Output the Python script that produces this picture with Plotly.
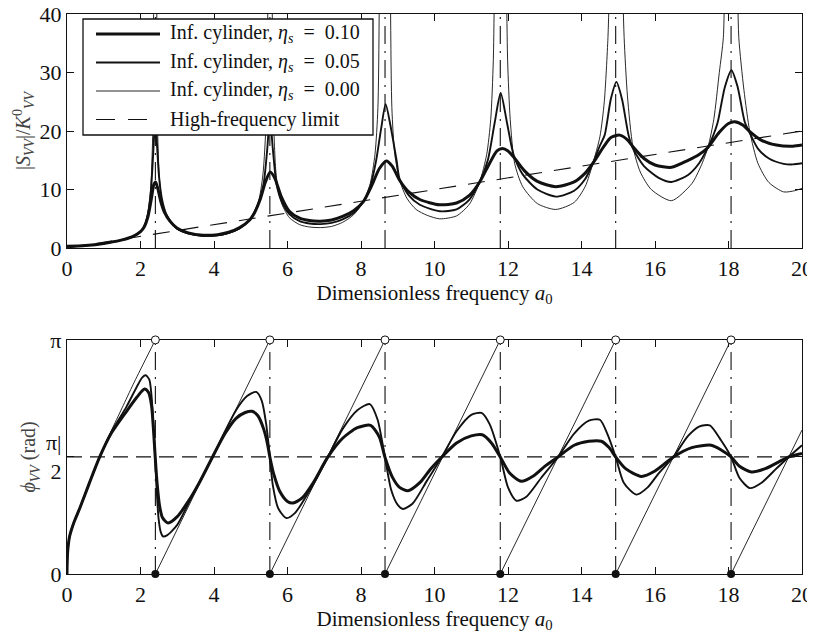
import plotly.graph_objects as go
from plotly.subplots import make_subplots

# ---------------- data ----------------
a0_ticks = [0, 2, 4, 6, 8, 10, 12, 14, 16, 18, 20]
mag_ticks = [0, 10, 20, 30, 40]

# resonance frequencies (vertical guide lines, markers)
resonances = [2.405, 5.520, 8.654, 11.79, 14.93, 18.07]

# high-frequency limit (straight dashed line)
hf_x = [0, 20]
hf_v = [0, 20]

# |S_VV|/K0_VV, eta_s = 0.10
mag_x_010 = [0, 0.5, 1.0, 1.5, 1.8, 2.0, 2.1, 2.2, 2.3, 2.36, 2.41, 2.47, 2.55, 2.66, 2.8, 3.0,
             3.3, 3.7, 4.1, 4.4, 4.7, 4.97, 5.1, 5.25, 5.4, 5.53, 5.65, 5.83, 6.05, 6.33, 6.6, 6.9,
             7.2, 7.5, 7.8, 8.06, 8.3, 8.5, 8.69, 8.85, 9.05, 9.3, 9.6, 10.14, 10.6, 10.95, 11.23,
             11.5, 11.7, 11.85, 12.0, 12.2, 12.45, 12.8, 13.3, 13.8, 14.1, 14.31, 14.6, 14.8, 15.04,
             15.25, 15.4, 15.7, 16.0, 16.45, 16.9, 17.2, 17.44, 17.75, 18.0, 18.17, 18.4, 18.58,
             18.9, 19.3, 19.75, 20.0]
mag_v_010 = [0.3, 0.45, 0.8, 1.4, 2.0, 2.8, 3.6, 5.3, 8.6, 10.8, 11.3, 10.2, 8.0, 6.0, 4.6, 3.4,
             2.6, 2.2, 2.3, 2.7, 3.5, 4.8, 6.0, 8.2, 11.3, 13.0, 12.0, 8.8, 6.3, 5.1, 4.7, 4.6,
             4.8, 5.4, 6.4, 7.9, 10.8, 13.6, 14.9, 14.0, 11.6, 9.6, 8.3, 7.4, 7.7, 9.0, 11.3,
             14.5, 16.6, 17.0, 16.6, 15.2, 13.2, 11.4, 10.5, 11.3, 12.8, 14.5, 17.3, 18.9, 19.3,
             18.5, 17.3, 15.3, 14.2, 13.8, 15.0, 16.0, 17.2, 19.8, 21.3, 21.6, 21.0, 19.9,
             18.4, 17.6, 17.4, 17.6]

# |S_VV|/K0_VV, eta_s = 0.05
mag_x_005 = [0, 0.5, 1.0, 1.5, 1.8, 2.0, 2.1, 2.2, 2.28, 2.34, 2.38, 2.41, 2.45, 2.5, 2.58, 2.7,
             2.85, 3.0, 3.3, 3.7, 4.1, 4.4, 4.7, 4.97, 5.2, 5.35, 5.45, 5.52, 5.6, 5.7, 5.85, 6.05,
             6.33, 6.6, 6.9, 7.2, 7.5, 7.8, 8.06, 8.25, 8.41, 8.55, 8.67, 8.8, 8.97, 9.05, 9.3,
             9.6, 10.14, 10.6, 10.95, 11.23, 11.45, 11.64, 11.8, 11.97, 12.15, 12.4, 12.8, 13.3,
             13.8, 14.1, 14.31, 14.5, 14.63, 14.8, 14.95, 15.1, 15.28, 15.4, 15.7, 16.1, 16.45,
             16.9, 17.2, 17.44, 17.6, 17.71, 17.9, 18.08, 18.25, 18.44, 18.56, 18.8, 19.1, 19.5,
             19.75, 20.0]
mag_v_005 = [0.3, 0.45, 0.8, 1.4, 2.0, 2.8, 3.7, 5.8, 9.5, 15.5, 20.0, 21.0, 17.5, 12.5, 8.5, 5.8,
             4.3, 3.3, 2.5, 2.1, 2.2, 2.6, 3.4, 4.8, 7.5, 11.0, 17.0, 22.5, 17.0, 11.0, 7.8, 5.8,
             4.6, 4.2, 4.1, 4.3, 4.9, 6.0, 7.9, 10.5, 14.9, 20.5, 24.6, 21.0, 14.9, 11.8, 9.0,
             7.4, 6.3, 6.6, 8.3, 11.3, 15.0, 21.5, 26.5, 21.5, 16.0, 12.6, 10.0, 8.8,
             9.8, 11.8, 14.5, 17.5, 19.3, 25.5, 28.4, 25.5, 19.3, 17.0, 14.0, 12.0, 11.3,
             12.5, 14.5, 17.2, 19.5, 21.6, 27.5, 30.4, 27.5, 21.6, 19.9, 17.0, 15.3, 14.4,
             14.3, 14.5]

# |S_VV|/K0_VV, eta_s = 0.00 (undamped, unbounded at resonances)
mag_x_000 = [0, 0.5, 1.0, 1.5, 1.8, 2.0, 2.1, 2.2, 2.28, 2.33, 2.36, None, 2.44, 2.47, 2.52, 2.6,
             2.72, 2.85, 3.0, 3.3, 3.7, 4.1, 4.4, 4.7, 4.97, 5.2, 5.33, 5.42, 5.47, None, 5.58,
             5.62, 5.7, 5.85, 6.05, 6.33, 6.6, 6.9, 7.2, 7.5, 7.8, 8.06, 8.25, 8.38, 8.46, 8.5,
             None, 8.8, 8.84, 8.92, 9.05, 9.25, 9.5, 9.8, 10.14, 10.6, 10.95, 11.23, 11.42, 11.53,
             11.6, 11.63, None, 11.96, 11.99, 12.06, 12.18, 12.4, 12.8, 13.3, 13.8, 14.1, 14.31,
             14.5, 14.62, 14.72, 14.76, None, 15.12, 15.16, 15.25, 15.4, 15.6, 15.9, 16.45, 17.0,
             17.25, 17.44, 17.6, 17.75, 17.86, 17.89, None, 18.25, 18.28, 18.42, 18.58, 18.8,
             19.1, 19.5, 19.8, 20.0]
mag_v_000 = [0.3, 0.45, 0.8, 1.4, 2.0, 2.8, 3.7, 6.0, 10.5, 19.0, 45, None, 45, 19.0, 11.5, 7.5,
             5.3, 4.1, 3.2, 2.4, 2.0, 2.1, 2.5, 3.3, 4.8, 7.7, 12.5, 22, 45, None, 45,
             22, 12, 7.5, 5.2, 4.0, 3.6, 3.5, 3.7, 4.4, 5.7, 7.9, 11.0, 16.0, 24.0, 45,
             None, 45, 24.0, 16.0, 11.6, 8.5, 6.6, 5.6, 5.0, 5.5, 7.5, 11.3, 16.0, 22.0,
             32.0, 45, None, 45, 32.0, 22.0, 14.5, 10.5, 7.6, 6.6, 7.8, 10.5, 14.5,
             19.0, 25.0, 36.0, 45, None, 45, 36.0, 26.0, 17.3, 13.0, 10.0, 8.1, 11.0,
             14.0, 17.2, 22.0, 30.0, 36.0, 45, None, 45, 36.0, 27.0, 19.9, 14.5,
             11.2, 9.6, 9.8, 10.2]

# phase phi_VV in units of pi, eta_s = 0.10
ph_x_010 = [0, 0.005, 0.02, 0.07, 0.2, 0.35, 0.6, 0.89, 1.2, 1.62, 1.9, 2.11, 2.22, 2.3, 2.36,
            2.40, 2.45, 2.52, 2.6, 2.75, 3.0, 3.3, 3.6, 3.96, 4.3, 4.6, 4.85, 5.04, 5.2, 5.35,
            5.45, 5.52, 5.62, 5.8, 6.0, 6.15, 6.4, 6.7, 7.1, 7.5, 7.9, 8.26, 8.5, 8.65, 8.85,
            9.05, 9.28, 9.6, 9.9, 10.2, 10.6, 11.0, 11.3, 11.55, 11.79, 12.05, 12.36, 12.7, 13.0,
            13.36, 13.8, 14.2, 14.54, 14.75, 14.93, 15.2, 15.63, 16.0, 16.5, 17.0, 17.53, 17.8,
            18.07, 18.3, 18.62, 19.0, 19.64, 20.0]
ph_v_010 = [0, 0.05, 0.1, 0.16, 0.225, 0.282, 0.385, 0.5, 0.6, 0.695, 0.755, 0.79, 0.775, 0.72, 0.6,
            0.50, 0.39, 0.29, 0.24, 0.218, 0.245, 0.31, 0.39, 0.50, 0.6, 0.665, 0.69, 0.695, 0.675,
            0.62, 0.56, 0.50, 0.43, 0.35, 0.31, 0.303, 0.325, 0.39, 0.50, 0.58, 0.625, 0.635, 0.585,
            0.50, 0.415, 0.37, 0.356, 0.39, 0.45, 0.50, 0.56, 0.59, 0.595, 0.56, 0.50, 0.43, 0.396,
            0.42, 0.46, 0.50, 0.55, 0.567, 0.567, 0.54, 0.50, 0.45, 0.417, 0.44, 0.50, 0.54, 0.55,
            0.53, 0.50, 0.46, 0.436, 0.45, 0.50, 0.515]

# phase, eta_s = 0.05
ph_x_005 = [0, 0.005, 0.02, 0.07, 0.2, 0.35, 0.6, 0.89, 1.2, 1.62, 1.9, 2.05, 2.14, 2.24, 2.3,
            2.35, 2.40, 2.44, 2.49, 2.55, 2.61, 2.72, 3.0, 3.3, 3.6, 3.96, 4.3, 4.6, 4.9, 5.15,
            5.3, 5.42, 5.52, 5.6, 5.75, 5.97, 6.2, 6.5, 6.8, 7.1, 7.5, 7.9, 8.24, 8.45, 8.65,
            8.82, 9.0, 9.14, 9.4, 9.8, 10.2, 10.6, 11.0, 11.28, 11.5, 11.79, 12.0, 12.23, 12.5,
            12.9, 13.36, 13.8, 14.2, 14.5, 14.7, 14.93, 15.15, 15.49, 15.8, 16.1, 16.5, 16.9,
            17.2, 17.49, 17.8, 18.07, 18.3, 18.58, 18.9, 19.3, 19.64, 20.0]
ph_v_005 = [0, 0.05, 0.1, 0.16, 0.225, 0.282, 0.385, 0.5, 0.605, 0.715, 0.8, 0.84, 0.849, 0.83, 0.76,
            0.64, 0.50, 0.36, 0.24, 0.18, 0.161, 0.165, 0.21, 0.3, 0.39, 0.50, 0.61, 0.7, 0.76, 0.778,
            0.74, 0.64, 0.50, 0.38, 0.28, 0.239, 0.26, 0.33, 0.41, 0.50, 0.62, 0.7, 0.726, 0.66, 0.50,
            0.36, 0.295, 0.278, 0.3, 0.4, 0.50, 0.61, 0.68, 0.688, 0.64, 0.50, 0.37, 0.313, 0.33,
            0.41, 0.50, 0.6, 0.655, 0.659, 0.6, 0.50, 0.39, 0.339, 0.37, 0.43, 0.50, 0.59,
            0.63, 0.635, 0.57, 0.50, 0.41, 0.367, 0.39, 0.45, 0.50, 0.55]

# phase, eta_s = 0.00 (saw-tooth between resonances)
ph_x_000 = [0, 0.005, 0.02, 0.07, 0.2, 0.35, 0.6, 0.89, 1.2, 1.5, 1.8, 2.1, 2.405, None,
            2.405, 5.520, None, 5.520, 8.654, None, 8.654, 11.79, None, 11.79, 14.93, None,
            14.93, 18.07, None, 18.07, 20.0]
ph_v_000 = [0, 0.05, 0.1, 0.16, 0.225, 0.282, 0.385, 0.5, 0.61, 0.71, 0.81, 0.905, 1.0, None,
            0, 1, None, 0, 1, None, 0, 1, None, 0, 1, None, 0, 1, None, 0, 0.615]

phase_tickvals = [0, 0.5, 1]
phase_ticktext = ["0", "π|<br>2", "π"]

legend_names = ["Inf. cylinder, <i>η<sub>s</sub></i>&nbsp; = &nbsp;0.10",
                "Inf. cylinder, <i>η<sub>s</sub></i>&nbsp; = &nbsp;0.05",
                "Inf. cylinder, <i>η<sub>s</sub></i>&nbsp; = &nbsp;0.00",
                "High-frequency limit"]

# ---------------- figure ----------------
FONT = "Liberation Serif"
INK = "#111111"
W_THICK, W_MED, W_THIN = 3, 1.9, 0.9
DASHDOT = "18px,7px,2px,7px"
HF_DASH = "17px,12px"

fig = make_subplots(rows=2, cols=1)

# guide lines built from the resonance list
vx, vy_top, vy_bot = [], [], []
for r in resonances:
    vx += [r, r, None]
    vy_top += [0, 40, None]
    vy_bot += [0, 1, None]

fig.add_trace(go.Scatter(x=vx, y=vy_top, mode="lines", showlegend=False, hoverinfo="skip",
                         line=dict(color=INK, width=1.1, dash=DASHDOT)), row=1, col=1)

spl = dict(shape="spline", smoothing=0.7)
fig.add_trace(go.Scatter(x=mag_x_010, y=mag_v_010, mode="lines", name=legend_names[0],
                         line=dict(color=INK, width=W_THICK, **spl)), row=1, col=1)
fig.add_trace(go.Scatter(x=mag_x_005, y=mag_v_005, mode="lines", name=legend_names[1],
                         line=dict(color=INK, width=W_MED, **spl)), row=1, col=1)
fig.add_trace(go.Scatter(x=mag_x_000, y=mag_v_000, mode="lines", name=legend_names[2],
                         line=dict(color=INK, width=W_THIN, **spl)), row=1, col=1)
fig.add_trace(go.Scatter(x=hf_x, y=hf_v, mode="lines", name=legend_names[3],
                         line=dict(color=INK, width=1.1, dash=HF_DASH)), row=1, col=1)

# bottom panel
fig.add_trace(go.Scatter(x=vx, y=vy_bot, mode="lines", showlegend=False, hoverinfo="skip",
                         line=dict(color=INK, width=1.1, dash=DASHDOT)), row=2, col=1)
fig.add_trace(go.Scatter(x=[0, 20], y=[0.5, 0.5], mode="lines", showlegend=False,
                         line=dict(color=INK, width=1.3, dash="15px,8px")), row=2, col=1)
fig.add_trace(go.Scatter(x=ph_x_000, y=ph_v_000, mode="lines", showlegend=False,
                         line=dict(color=INK, width=W_THIN, **spl)), row=2, col=1)
fig.add_trace(go.Scatter(x=ph_x_005, y=ph_v_005, mode="lines", showlegend=False,
                         line=dict(color=INK, width=W_MED, **spl)), row=2, col=1)
fig.add_trace(go.Scatter(x=ph_x_010, y=ph_v_010, mode="lines", showlegend=False,
                         line=dict(color=INK, width=W_THICK, **spl)), row=2, col=1)
fig.add_trace(go.Scatter(x=resonances, y=[0] * len(resonances), mode="markers", showlegend=False,
                         cliponaxis=False, marker=dict(color=INK, size=8, symbol="circle")),
              row=2, col=1)
fig.add_trace(go.Scatter(x=resonances, y=[1] * len(resonances), mode="markers", showlegend=False,
                         cliponaxis=False,
                         marker=dict(color="white", size=8, symbol="circle",
                                     line=dict(color=INK, width=1))), row=2, col=1)

axis_common = dict(showline=True, linecolor=INK, linewidth=1.3, mirror="ticks", ticks="inside",
                   ticklen=7, tickwidth=1, tickcolor=INK, showgrid=False, zeroline=False,
                   automargin=False, ticklabeloverflow="allow",
                   tickfont=dict(size=22, family=FONT, color=INK), layer="below traces")

xtitle = "Dimensionless frequency <i>a</i><sub>0</sub>"
fig.update_xaxes(range=[0, 20], tickvals=a0_ticks, **axis_common)
fig.update_yaxes(**axis_common)
fig.update_layout(
    xaxis=dict(domain=[0, 1], title=dict(text=xtitle, font=dict(size=21), standoff=2)),
    xaxis2=dict(domain=[0, 1], title=dict(text=xtitle, font=dict(size=21), standoff=2)),
    yaxis=dict(domain=[0.582, 1], range=[0, 40], tickvals=mag_ticks,
               title=dict(text="|<i>S<sub>VV</sub></i>|/<i>K</i><sup>0</sup><sub><i>VV</i></sub>",
                          font=dict(size=20, color="#444"), standoff=3)),
    yaxis2=dict(domain=[0, 0.418], range=[0, 1], tickvals=phase_tickvals,
                ticktext=phase_ticktext,
                title=dict(text="<i>ϕ<sub>VV</sub></i> (rad)", font=dict(size=20, color="#444"),
                           standoff=4)),
)

# ---- legend box (drawn in paper coordinates of the plotting area) ----
PLOT_W, PLOT_H = 735.0, 560.0
def px_x(X):  # page pixel -> paper x
    return (X - 67) / PLOT_W
def px_y(Y):  # page pixel -> paper y
    return (574 - Y) / PLOT_H

shapes = [dict(type="rect", xref="paper", yref="paper", layer="above",
               x0=px_x(83), x1=px_x(373), y0=px_y(135), y1=px_y(19),
               fillcolor="white", line=dict(color=INK, width=1.3))]
annotations = []
row_y = [34, 62.5, 91, 119.5]
row_w = [W_THICK, W_MED, W_THIN, 1.1]
row_dash = ["solid", "solid", "solid", "19px,13px"]
for name, yy, ww, dd in zip(legend_names, row_y, row_w, row_dash):
    shapes.append(dict(type="line", xref="paper", yref="paper", layer="above",
                       x0=px_x(96), x1=px_x(160), y0=px_y(yy), y1=px_y(yy),
                       line=dict(color=INK, width=ww, dash=dd)))
    annotations.append(dict(xref="paper", yref="paper", x=px_x(168), y=px_y(yy),
                            xanchor="left", yanchor="middle", showarrow=False, text=name,
                            font=dict(size=20, family=FONT, color=INK)))

fig.update_layout(
    width=807, height=627,
    margin=dict(l=59, r=13, t=6, b=61, autoexpand=False),
    paper_bgcolor="white", plot_bgcolor="white",
    font=dict(family=FONT, color=INK, size=20),
    showlegend=False,
    shapes=shapes, annotations=annotations,
)

fig.write_html("out.html")
